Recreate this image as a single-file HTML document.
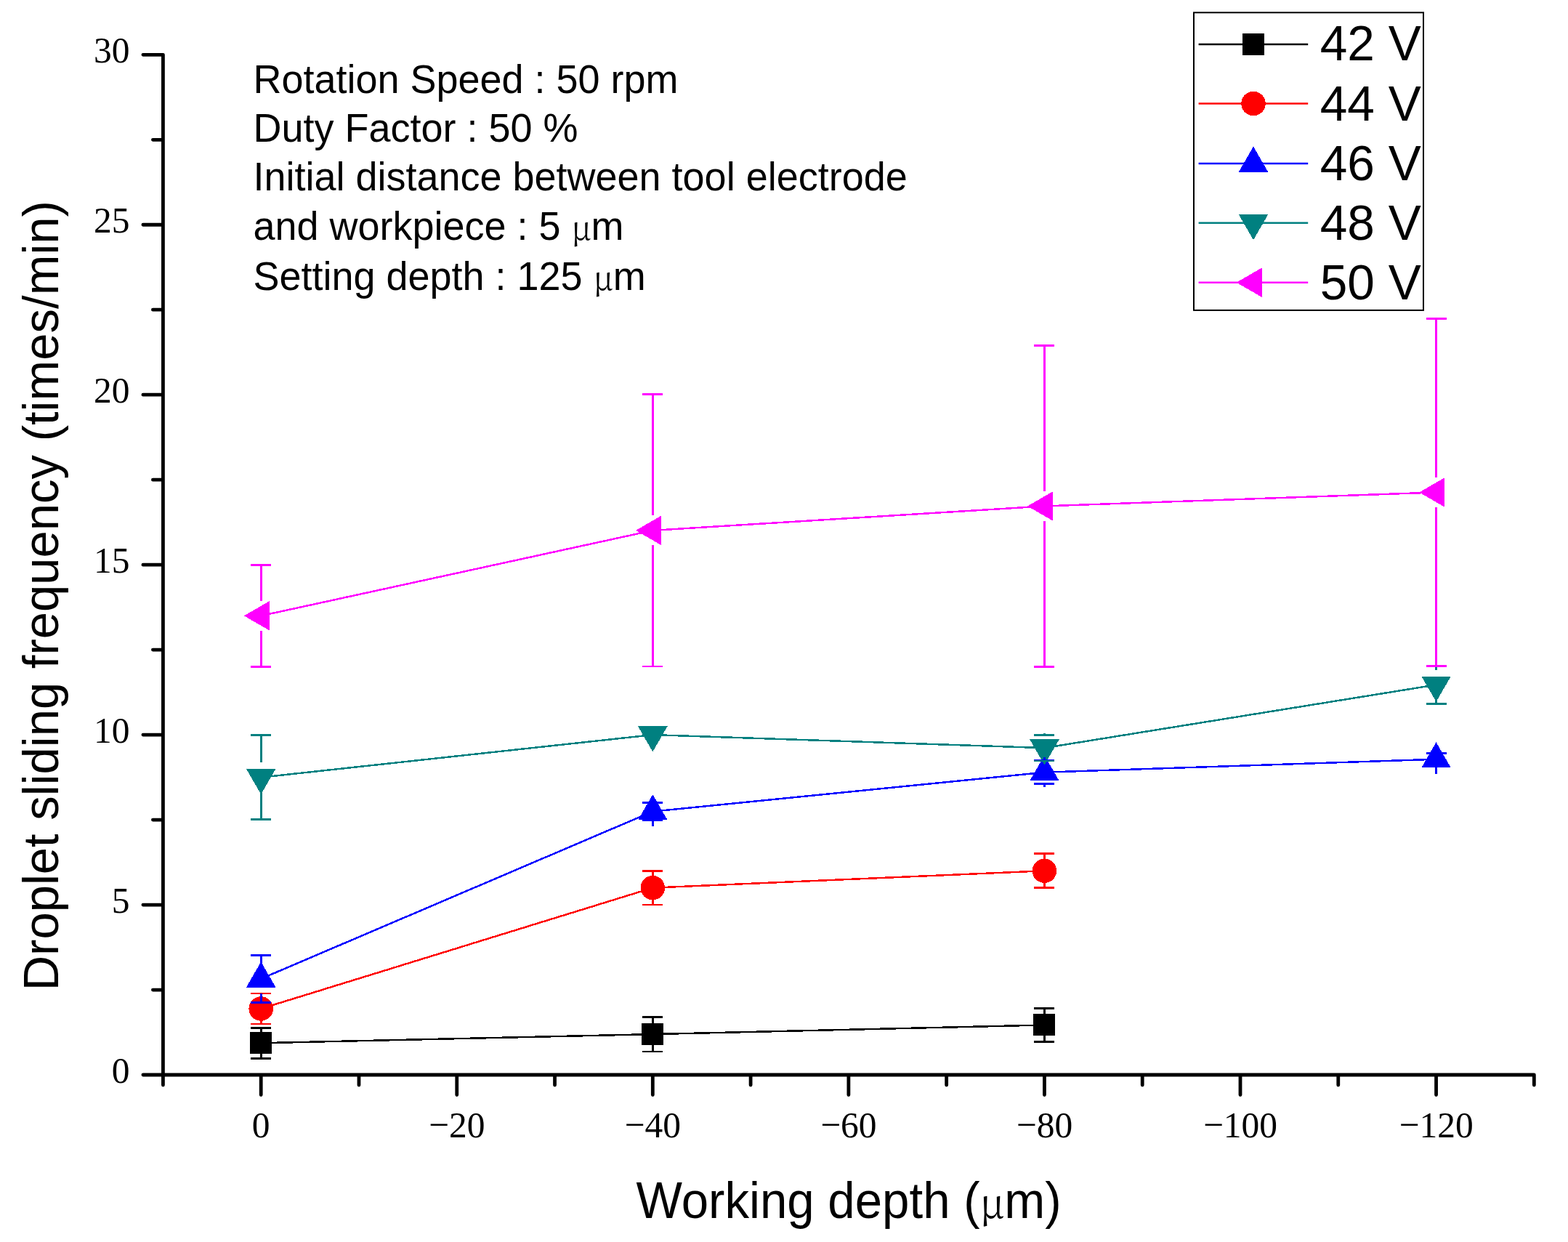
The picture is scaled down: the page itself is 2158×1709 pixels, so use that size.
<!DOCTYPE html><html><head><meta charset="utf-8"><title>Droplet sliding frequency</title><style>
html,body{margin:0;padding:0;background:#fff;width:2158px;height:1709px;overflow:hidden}
svg{display:block}
.tk{font-family:"Liberation Serif","Times New Roman",serif;font-size:49.5px;fill:#000}
.sa{font-family:"Liberation Sans",Arial,sans-serif;fill:#000}
.mu{font-family:"Noto Serif CJK SC","Liberation Serif",serif;font-size:0.8em}
</style></head><body>
<svg width="2158" height="1709" viewBox="0 0 2158 1709">
<rect width="2158" height="1709" fill="#fff"/>
<path d="M224.42,75.30 V1479.00 M224.42,1479.00 H2111.34 M196.92,1479.00 H224.42 M210.42,1362.03 H224.42 M196.92,1245.05 H224.42 M210.42,1128.08 H224.42 M196.92,1011.10 H224.42 M210.42,894.12 H224.42 M196.92,777.15 H224.42 M210.42,660.18 H224.42 M196.92,543.20 H224.42 M210.42,426.22 H224.42 M196.92,309.25 H224.42 M210.42,192.28 H224.42 M196.92,75.30 H224.42 M224.42,1479.00 V1493.00 M359.20,1479.00 V1506.50 M493.98,1479.00 V1493.00 M628.76,1479.00 V1506.50 M763.54,1479.00 V1493.00 M898.32,1479.00 V1506.50 M1033.10,1479.00 V1493.00 M1167.88,1479.00 V1506.50 M1302.66,1479.00 V1493.00 M1437.44,1479.00 V1506.50 M1572.22,1479.00 V1493.00 M1707.00,1479.00 V1506.50 M1841.78,1479.00 V1493.00 M1976.56,1479.00 V1506.50 M2111.34,1479.00 V1493.00" stroke="#000" stroke-width="4.8" fill="none" stroke-linecap="round" stroke-linejoin="round"/>
<text class="tk" transform="translate(178.50,1490.00) scale(1,1.04)" text-anchor="end">0</text>
<text class="tk" transform="translate(178.50,1256.05) scale(1,1.04)" text-anchor="end">5</text>
<text class="tk" transform="translate(178.50,1022.10) scale(1,1.04)" text-anchor="end">10</text>
<text class="tk" transform="translate(178.50,788.15) scale(1,1.04)" text-anchor="end">15</text>
<text class="tk" transform="translate(178.50,554.20) scale(1,1.04)" text-anchor="end">20</text>
<text class="tk" transform="translate(178.50,320.25) scale(1,1.04)" text-anchor="end">25</text>
<text class="tk" transform="translate(178.50,86.30) scale(1,1.04)" text-anchor="end">30</text>
<text class="tk" transform="translate(359.20,1564.50) scale(1,1.04)" text-anchor="middle">0</text>
<text class="tk" transform="translate(628.76,1564.50) scale(1,1.04)" text-anchor="middle">−20</text>
<text class="tk" transform="translate(898.32,1564.50) scale(1,1.04)" text-anchor="middle">−40</text>
<text class="tk" transform="translate(1167.88,1564.50) scale(1,1.04)" text-anchor="middle">−60</text>
<text class="tk" transform="translate(1437.44,1564.50) scale(1,1.04)" text-anchor="middle">−80</text>
<text class="tk" transform="translate(1707.00,1564.50) scale(1,1.04)" text-anchor="middle">−100</text>
<text class="tk" transform="translate(1976.56,1564.50) scale(1,1.04)" text-anchor="middle">−120</text>
<path d="M359.20,1435.25 L898.32,1423.09 L1437.44,1410.45" stroke="#000000" stroke-width="2.5" fill="none" stroke-linejoin="round" shape-rendering="crispEdges"/>
<rect x="344.20" y="1420.25" width="30" height="30" fill="#000000" shape-rendering="crispEdges"/>
<rect x="883.32" y="1408.09" width="30" height="30" fill="#000000" shape-rendering="crispEdges"/>
<rect x="1422.44" y="1395.45" width="30" height="30" fill="#000000" shape-rendering="crispEdges"/>
<path d="M359.20,1387.99 L898.32,1221.65 L1437.44,1198.26" stroke="#FF0000" stroke-width="2.5" fill="none" stroke-linejoin="round" shape-rendering="crispEdges"/>
<circle cx="359.20" cy="1387.99" r="16.75" fill="#FF0000" shape-rendering="crispEdges"/>
<circle cx="898.32" cy="1221.65" r="16.75" fill="#FF0000" shape-rendering="crispEdges"/>
<circle cx="1437.44" cy="1198.26" r="16.75" fill="#FF0000" shape-rendering="crispEdges"/>
<path d="M359.20,1346.82 L898.32,1116.61 L1437.44,1062.71 L1976.56,1044.70" stroke="#0000FF" stroke-width="2.5" fill="none" stroke-linejoin="round" shape-rendering="crispEdges"/>
<polygon points="359.20,1323.44 338.95,1358.51 379.45,1358.51" fill="#0000FF" shape-rendering="crispEdges"/>
<polygon points="898.32,1093.23 878.07,1128.30 918.57,1128.30" fill="#0000FF" shape-rendering="crispEdges"/>
<polygon points="1437.44,1039.33 1417.19,1074.40 1457.69,1074.40" fill="#0000FF" shape-rendering="crispEdges"/>
<polygon points="1976.56,1021.31 1956.31,1056.39 1996.81,1056.39" fill="#0000FF" shape-rendering="crispEdges"/>
<path d="M359.20,1069.68 L898.32,1011.10 L1437.44,1029.16 L1976.56,942.32" stroke="#008080" stroke-width="2.5" fill="none" stroke-linejoin="round" shape-rendering="crispEdges"/>
<polygon points="359.20,1093.06 338.95,1057.99 379.45,1057.99" fill="#008080" shape-rendering="crispEdges"/>
<polygon points="898.32,1034.48 878.07,999.41 918.57,999.41" fill="#008080" shape-rendering="crispEdges"/>
<polygon points="1437.44,1052.54 1417.19,1017.47 1457.69,1017.47" fill="#008080" shape-rendering="crispEdges"/>
<polygon points="1976.56,965.70 1956.31,930.63 1996.81,930.63" fill="#008080" shape-rendering="crispEdges"/>
<path d="M359.20,847.34 L898.32,729.89 L1437.44,696.44 L1976.56,677.49" stroke="#FF00FF" stroke-width="2.5" fill="none" stroke-linejoin="round" shape-rendering="crispEdges"/>
<polygon points="335.82,847.34 370.89,827.09 370.89,867.59" fill="#FF00FF" shape-rendering="crispEdges"/>
<polygon points="874.94,729.89 910.01,709.64 910.01,750.14" fill="#FF00FF" shape-rendering="crispEdges"/>
<polygon points="1414.06,696.44 1449.13,676.19 1449.13,716.69" fill="#FF00FF" shape-rendering="crispEdges"/>
<polygon points="1953.18,677.49 1988.25,657.24 1988.25,697.74" fill="#FF00FF" shape-rendering="crispEdges"/>
<path d="M359.20,1420.25 V1414.20 M345.20,1414.20 H373.20 M359.20,1450.25 V1456.31 M345.20,1456.31 H373.20 M898.32,1408.09 V1399.22 M884.32,1399.22 H912.32 M898.32,1438.09 V1446.95 M884.32,1446.95 H912.32 M1437.44,1395.45 V1387.53 M1423.44,1387.53 H1451.44 M1437.44,1425.45 V1433.38 M1423.44,1433.38 H1451.44" stroke="#000000" stroke-width="2.8" fill="none" shape-rendering="crispEdges"/>
<path d="M359.20,1371.24 V1366.94 M345.20,1366.94 H373.20 M359.20,1404.74 V1409.05 M345.20,1409.05 H373.20 M898.32,1204.90 V1198.26 M884.32,1198.26 H912.32 M898.32,1238.40 V1245.05 M884.32,1245.05 H912.32 M1437.44,1181.51 V1174.87 M1423.44,1174.87 H1451.44 M1437.44,1215.01 V1221.65 M1423.44,1221.65 H1451.44" stroke="#FF0000" stroke-width="2.8" fill="none" shape-rendering="crispEdges"/>
<path d="M359.20,1326.32 V1314.53 M345.20,1314.53 H373.20 M359.20,1367.32 V1379.10 M345.20,1379.10 H373.20 M898.32,1096.11 V1104.45 M884.32,1104.45 H912.32 M898.32,1137.11 V1128.78 M884.32,1128.78 H912.32 M1437.44,1042.21 V1046.80 M1423.44,1046.80 H1451.44 M1437.44,1083.21 V1078.62 M1423.44,1078.62 H1451.44 M1976.56,1024.20 V1036.74 M1962.56,1036.74 H1990.56 M1976.56,1065.20 V1052.65 M1962.56,1052.65 H1990.56" stroke="#0000FF" stroke-width="2.8" fill="none" shape-rendering="crispEdges"/>
<path d="M359.20,1049.18 V1011.66 M345.20,1011.66 H373.20 M359.20,1090.18 V1127.70 M345.20,1127.70 H373.20 M1437.44,1008.66 V1011.38 M1423.44,1011.38 H1451.44 M1437.44,1049.66 V1046.94 M1423.44,1046.94 H1451.44 M1976.56,921.82 V916.35 M1962.56,916.35 H1990.56 M1976.56,962.82 V968.29 M1962.56,968.29 H1990.56" stroke="#008080" stroke-width="2.8" fill="none" shape-rendering="crispEdges"/>
<path d="M359.20,826.84 V777.15 M345.20,777.15 H373.20 M359.20,867.84 V917.52 M345.20,917.52 H373.20 M898.32,709.39 V542.73 M884.32,542.73 H912.32 M898.32,750.39 V917.05 M884.32,917.05 H912.32 M1437.44,675.94 V475.59 M1423.44,475.59 H1451.44 M1437.44,716.94 V917.29 M1423.44,917.29 H1451.44 M1976.56,656.99 V438.86 M1962.56,438.86 H1990.56 M1976.56,697.99 V916.12 M1962.56,916.12 H1990.56" stroke="#FF00FF" stroke-width="2.8" fill="none" shape-rendering="crispEdges"/>
<text class="sa" transform="translate(348.4,128.2) scale(1,1.035)" font-size="54.0">Rotation Speed : 50 rpm</text>
<text class="sa" transform="translate(348.4,195.0) scale(1,1.035)" font-size="54.0">Duty Factor : 50 %</text>
<text class="sa" transform="translate(348.4,262.2) scale(1,1.035)" font-size="54.0">Initial distance between tool electrode</text>
<text class="sa" transform="translate(348.4,329.9) scale(1,1.035)" font-size="54.0">and workpiece : 5 <tspan class="mu">μ</tspan>m</text>
<text class="sa" transform="translate(348.4,398.8) scale(1,1.035)" font-size="54.0">Setting depth : 125 <tspan class="mu">μ</tspan>m</text>
<rect x="1643" y="17.3" width="316.0" height="409.59999999999997" fill="#fff" stroke="#000" stroke-width="2.0"/>
<path d="M1649.6,61 H1800.2" stroke="#000000" stroke-width="2.4"/>
<rect x="1710.00" y="46.00" width="30" height="30" fill="#000000" shape-rendering="crispEdges"/>
<text class="sa" transform="translate(1816.7,82.9) scale(1,1.0)" font-size="67.6">42 V</text>
<path d="M1649.6,142.5 H1800.2" stroke="#FF0000" stroke-width="2.4"/>
<circle cx="1725.00" cy="142.50" r="16.75" fill="#FF0000" shape-rendering="crispEdges"/>
<text class="sa" transform="translate(1816.7,166.0) scale(1,1.0)" font-size="67.6">44 V</text>
<path d="M1649.6,225 H1800.2" stroke="#0000FF" stroke-width="2.4"/>
<polygon points="1725.00,201.62 1704.75,236.69 1745.25,236.69" fill="#0000FF" shape-rendering="crispEdges"/>
<text class="sa" transform="translate(1816.7,248.0) scale(1,1.0)" font-size="67.6">46 V</text>
<path d="M1649.6,306.8 H1800.2" stroke="#008080" stroke-width="2.4"/>
<polygon points="1725.00,330.18 1704.75,295.11 1745.25,295.11" fill="#008080" shape-rendering="crispEdges"/>
<text class="sa" transform="translate(1816.7,330.1) scale(1,1.0)" font-size="67.6">48 V</text>
<path d="M1649.6,388.7 H1800.2" stroke="#FF00FF" stroke-width="2.4"/>
<polygon points="1701.62,388.70 1736.69,368.45 1736.69,408.95" fill="#FF00FF" shape-rendering="crispEdges"/>
<text class="sa" transform="translate(1816.7,411.8) scale(1,1.0)" font-size="67.6">50 V</text>
<text class="sa" transform="translate(875.5,1676.2) scale(1,1.04)" font-size="67.2">Working depth (<tspan class="mu">μ</tspan>m)</text>
<text class="sa" transform="translate(79.7,1363.3) rotate(-90) scale(1,1.015)" font-size="67.0">Droplet sliding frequency (times/min)</text>
</svg></body></html>
